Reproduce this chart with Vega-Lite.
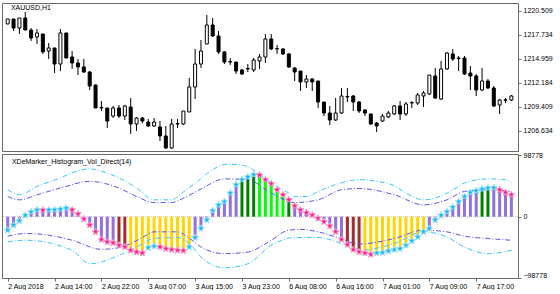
{
  "$schema": "https://vega.github.io/schema/vega-lite/v6.json",
  "background": "white",
  "padding": {"left": 1, "top": 2, "right": 0, "bottom": 0},
  "autosize": {"type": "pad"},
  "spacing": -2,
  "config": {
    "view": {"stroke": "#6a6a6a", "strokeWidth": 1},
    "font": "Liberation Sans",
    "axis": {"labelFont": "Liberation Sans", "labelFontSize": 7, "labelColor": "#000000", "tickColor": "#6a6a6a", "tickSize": 3, "domain": false, "grid": false, "title": null}
  },
  "datasets": {
    "bars": [
      {"i":0,"o":1218.98,"h":1219.55,"l":1218.98,"c":1219.55,"v":-21640,"hc":"none","d":"rise"},
      {"i":1,"o":1219.55,"h":1219.55,"l":1218.17,"c":1218.51,"v":-13510,"hc":"none","d":"rise"},
      {"i":2,"o":1218.51,"h":1219.67,"l":1217.82,"c":1219.67,"v":-6510,"hc":"none","d":"rise"},
      {"i":3,"o":1219.67,"h":1220.36,"l":1218.28,"c":1218.28,"v":2280,"hc":"none","d":"rise"},
      {"i":4,"o":1218.28,"h":1218.51,"l":1217.02,"c":1217.36,"v":7650,"hc":"none","d":"rise"},
      {"i":5,"o":1217.48,"h":1218.40,"l":1216.67,"c":1217.94,"v":10900,"hc":"none","d":"rise"},
      {"i":6,"o":1217.82,"h":1217.82,"l":1215.52,"c":1215.75,"v":10600,"hc":"none","d":"fall"},
      {"i":7,"o":1215.86,"h":1216.78,"l":1214.94,"c":1216.21,"v":10900,"hc":"none","d":"rise"},
      {"i":8,"o":1216.21,"h":1216.21,"l":1213.32,"c":1214.36,"v":11200,"hc":"none","d":"rise"},
      {"i":9,"o":1214.36,"h":1218.40,"l":1213.55,"c":1217.94,"v":12040,"hc":"none","d":"rise"},
      {"i":10,"o":1217.94,"h":1217.94,"l":1215.05,"c":1215.05,"v":13670,"hc":"none","d":"rise"},
      {"i":11,"o":1215.17,"h":1215.86,"l":1213.79,"c":1214.48,"v":10900,"hc":"none","d":"fall"},
      {"i":12,"o":1214.48,"h":1214.94,"l":1213.09,"c":1214.02,"v":4390,"hc":"none","d":"fall"},
      {"i":13,"o":1214.02,"h":1214.94,"l":1213.32,"c":1213.44,"v":-3740,"hc":"none","d":"fall"},
      {"i":14,"o":1213.44,"h":1213.55,"l":1211.36,"c":1211.82,"v":-13510,"hc":"none","d":"fall"},
      {"i":15,"o":1211.94,"h":1212.00,"l":1209.29,"c":1209.29,"v":-24410,"hc":"none","d":"fall"},
      {"i":16,"o":1209.29,"h":1210.09,"l":1208.94,"c":1209.35,"v":-36780,"hc":"none","d":"fall"},
      {"i":17,"o":1209.29,"h":1209.29,"l":1206.98,"c":1207.79,"v":-40680,"hc":"none","d":"fall"},
      {"i":18,"o":1208.36,"h":1209.52,"l":1208.13,"c":1209.29,"v":-42310,"hc":"none","d":"fall"},
      {"i":19,"o":1209.29,"h":1209.63,"l":1208.13,"c":1208.36,"v":-46050,"hc":"dn_start","d":"fall"},
      {"i":20,"o":1208.36,"h":1209.63,"l":1207.90,"c":1209.52,"v":-48820,"hc":"dn_start","d":"fall"},
      {"i":21,"o":1209.40,"h":1210.44,"l":1206.29,"c":1207.44,"v":-54190,"hc":"dn","d":"fall"},
      {"i":22,"o":1207.44,"h":1208.25,"l":1206.63,"c":1208.13,"v":-56960,"hc":"dn","d":"fall"},
      {"i":23,"o":1208.13,"h":1208.25,"l":1207.55,"c":1207.79,"v":-58580,"hc":"dn","d":"fall"},
      {"i":24,"o":1207.67,"h":1208.02,"l":1207.10,"c":1207.21,"v":-49800,"hc":"dn","d":"rise"},
      {"i":25,"o":1207.21,"h":1208.13,"l":1207.10,"c":1207.67,"v":-47680,"hc":"dn","d":"rise"},
      {"i":26,"o":1207.10,"h":1207.79,"l":1205.48,"c":1206.06,"v":-48820,"hc":"dn","d":"fall"},
      {"i":27,"o":1206.06,"h":1207.21,"l":1204.56,"c":1204.67,"v":-51420,"hc":"dn","d":"fall"},
      {"i":28,"o":1204.67,"h":1208.02,"l":1204.56,"c":1207.44,"v":-53050,"hc":"dn","d":"fall"},
      {"i":29,"o":1207.44,"h":1208.02,"l":1206.98,"c":1207.50,"v":-54190,"hc":"dn","d":"fall"},
      {"i":30,"o":1207.44,"h":1208.94,"l":1207.33,"c":1208.94,"v":-54800,"hc":"dn","d":"fall"},
      {"i":31,"o":1208.83,"h":1212.75,"l":1208.83,"c":1211.71,"v":-48820,"hc":"dn","d":"rise"},
      {"i":32,"o":1211.71,"h":1216.09,"l":1210.33,"c":1214.36,"v":-33520,"hc":"none","d":"rise"},
      {"i":33,"o":1214.36,"h":1217.13,"l":1213.90,"c":1215.86,"v":-18880,"hc":"none","d":"rise"},
      {"i":34,"o":1216.67,"h":1220.01,"l":1216.67,"c":1218.86,"v":-5370,"hc":"none","d":"rise"},
      {"i":35,"o":1218.86,"h":1219.67,"l":1217.48,"c":1217.59,"v":9760,"hc":"none","d":"rise"},
      {"i":36,"o":1217.59,"h":1218.17,"l":1215.52,"c":1215.75,"v":19040,"hc":"none","d":"rise"},
      {"i":37,"o":1215.75,"h":1215.86,"l":1214.36,"c":1214.59,"v":24410,"hc":"none","d":"rise"},
      {"i":38,"o":1214.59,"h":1215.05,"l":1214.25,"c":1214.65,"v":38080,"hc":"none","d":"rise"},
      {"i":39,"o":1214.59,"h":1214.59,"l":1213.21,"c":1213.55,"v":51580,"hc":"none","d":"rise"},
      {"i":40,"o":1213.67,"h":1213.79,"l":1213.09,"c":1213.21,"v":59720,"hc":"up_start","d":"rise"},
      {"i":41,"o":1213.79,"h":1214.36,"l":1213.44,"c":1213.85,"v":64110,"hc":"up_start","d":"rise"},
      {"i":42,"o":1213.67,"h":1215.05,"l":1213.44,"c":1214.82,"v":67860,"hc":"up_start","d":"rise"},
      {"i":43,"o":1214.71,"h":1215.52,"l":1213.79,"c":1215.17,"v":67000,"hc":"up","d":"fall"},
      {"i":44,"o":1215.17,"h":1217.82,"l":1214.48,"c":1217.25,"v":59720,"hc":"up","d":"fall"},
      {"i":45,"o":1217.25,"h":1217.82,"l":1215.98,"c":1216.09,"v":53210,"hc":"up","d":"fall"},
      {"i":46,"o":1216.09,"h":1216.55,"l":1215.52,"c":1216.15,"v":43450,"hc":"up","d":"fall"},
      {"i":47,"o":1216.09,"h":1216.21,"l":1215.40,"c":1215.52,"v":35310,"hc":"up","d":"fall"},
      {"i":48,"o":1215.52,"h":1215.63,"l":1213.90,"c":1214.02,"v":27180,"hc":"up_start","d":"fall"},
      {"i":49,"o":1213.90,"h":1214.02,"l":1212.40,"c":1213.44,"v":17410,"hc":"none","d":"fall"},
      {"i":50,"o":1213.55,"h":1213.55,"l":1211.25,"c":1212.29,"v":10900,"hc":"none","d":"fall"},
      {"i":51,"o":1212.29,"h":1213.09,"l":1211.59,"c":1212.63,"v":6510,"hc":"none","d":"fall"},
      {"i":52,"o":1212.63,"h":1212.75,"l":1211.25,"c":1212.29,"v":2770,"hc":"none","d":"fall"},
      {"i":53,"o":1212.40,"h":1212.40,"l":1209.29,"c":1209.98,"v":-2600,"hc":"none","d":"fall"},
      {"i":54,"o":1209.98,"h":1209.98,"l":1208.36,"c":1208.71,"v":-8140,"hc":"none","d":"fall"},
      {"i":55,"o":1208.71,"h":1209.52,"l":1207.33,"c":1207.90,"v":-15130,"hc":"none","d":"fall"},
      {"i":56,"o":1207.90,"h":1210.44,"l":1207.79,"c":1208.71,"v":-24410,"hc":"none","d":"fall"},
      {"i":57,"o":1208.71,"h":1211.59,"l":1208.60,"c":1210.67,"v":-36780,"hc":"none","d":"fall"},
      {"i":58,"o":1210.56,"h":1211.59,"l":1209.98,"c":1210.62,"v":-44910,"hc":"dn_start","d":"fall"},
      {"i":59,"o":1210.67,"h":1210.79,"l":1208.94,"c":1209.98,"v":-53050,"hc":"dn_start","d":"fall"},
      {"i":60,"o":1209.98,"h":1210.09,"l":1208.71,"c":1208.94,"v":-56960,"hc":"dn_start","d":"fall"},
      {"i":61,"o":1209.06,"h":1209.17,"l":1208.36,"c":1208.71,"v":-58580,"hc":"dn","d":"fall"},
      {"i":62,"o":1208.60,"h":1208.60,"l":1207.33,"c":1207.44,"v":-60700,"hc":"dn","d":"fall"},
      {"i":63,"o":1207.55,"h":1207.67,"l":1206.52,"c":1207.21,"v":-58580,"hc":"dn","d":"rise"},
      {"i":64,"o":1207.79,"h":1208.60,"l":1207.67,"c":1208.36,"v":-58000,"hc":"dn","d":"rise"},
      {"i":65,"o":1208.25,"h":1208.94,"l":1208.13,"c":1208.71,"v":-55330,"hc":"dn","d":"rise"},
      {"i":66,"o":1208.60,"h":1209.63,"l":1208.48,"c":1209.52,"v":-53050,"hc":"dn","d":"rise"},
      {"i":67,"o":1209.52,"h":1210.09,"l":1207.90,"c":1208.60,"v":-51420,"hc":"dn","d":"rise"},
      {"i":68,"o":1208.60,"h":1209.98,"l":1208.36,"c":1209.75,"v":-46050,"hc":"dn","d":"rise"},
      {"i":69,"o":1209.86,"h":1210.09,"l":1209.29,"c":1209.92,"v":-39060,"hc":"dn","d":"rise"},
      {"i":70,"o":1209.86,"h":1211.02,"l":1209.63,"c":1210.79,"v":-32550,"hc":"dn","d":"rise"},
      {"i":71,"o":1210.67,"h":1211.25,"l":1209.40,"c":1211.02,"v":-24410,"hc":"dn","d":"rise"},
      {"i":72,"o":1210.90,"h":1213.09,"l":1210.79,"c":1213.09,"v":-18880,"hc":"none","d":"rise"},
      {"i":73,"o":1212.98,"h":1213.90,"l":1210.33,"c":1210.44,"v":-5370,"hc":"none","d":"rise"},
      {"i":74,"o":1210.33,"h":1214.71,"l":1210.21,"c":1213.79,"v":2280,"hc":"none","d":"rise"},
      {"i":75,"o":1213.79,"h":1215.75,"l":1213.67,"c":1215.63,"v":8140,"hc":"none","d":"rise"},
      {"i":76,"o":1215.52,"h":1216.09,"l":1214.71,"c":1214.94,"v":15300,"hc":"none","d":"rise"},
      {"i":77,"o":1214.99,"h":1215.28,"l":1213.55,"c":1215.05,"v":24410,"hc":"none","d":"rise"},
      {"i":78,"o":1215.05,"h":1215.28,"l":1213.09,"c":1213.21,"v":32550,"hc":"none","d":"rise"},
      {"i":79,"o":1213.32,"h":1214.13,"l":1211.36,"c":1212.98,"v":39060,"hc":"none","d":"rise"},
      {"i":80,"o":1212.98,"h":1213.21,"l":1210.67,"c":1211.36,"v":41820,"hc":"none","d":"rise"},
      {"i":81,"o":1211.36,"h":1213.90,"l":1211.25,"c":1212.40,"v":44590,"hc":"up_start","d":"rise"},
      {"i":82,"o":1212.40,"h":1212.63,"l":1211.48,"c":1211.59,"v":46210,"hc":"up_start","d":"rise"},
      {"i":83,"o":1211.59,"h":1211.82,"l":1209.40,"c":1209.52,"v":46500,"hc":"none","d":"rise"},
      {"i":84,"o":1209.63,"h":1210.33,"l":1208.60,"c":1210.21,"v":43450,"hc":"none","d":"fall"},
      {"i":85,"o":1210.18,"h":1210.44,"l":1209.86,"c":1210.24,"v":39060,"hc":"none","d":"fall"},
      {"i":86,"o":1210.21,"h":1210.79,"l":1210.09,"c":1210.67,"v":35310,"hc":"none","d":"fall"}
    ],
    "bands": [
      {"band":"uo","i":0,"v":43450},{"band":"uo","i":2,"v":35310},{"band":"uo","i":5,"v":48820},{"band":"uo","i":9,"v":62490},
      {"band":"uo","i":11,"v":70620},{"band":"uo","i":14,"v":77130},{"band":"uo","i":16,"v":73230},{"band":"uo","i":19,"v":62490},
      {"band":"uo","i":22,"v":46220},{"band":"uo","i":25,"v":27180},{"band":"uo","i":28,"v":27180},{"band":"uo","i":30,"v":40000},
      {"band":"uo","i":32,"v":54000},{"band":"uo","i":35,"v":75990},{"band":"uo","i":37,"v":84130},{"band":"uo","i":39,"v":84130},
      {"band":"uo","i":41,"v":80390},{"band":"uo","i":43,"v":67860},{"band":"uo","i":45,"v":54350},{"band":"uo","i":48,"v":38080},
      {"band":"uo","i":49,"v":32550},{"band":"uo","i":51,"v":32550},{"band":"uo","i":53,"v":40680},{"band":"uo","i":56,"v":51590},
      {"band":"uo","i":60,"v":59720},{"band":"uo","i":63,"v":56960},{"band":"uo","i":66,"v":49960},{"band":"uo","i":68,"v":38080},
      {"band":"uo","i":71,"v":27180},{"band":"uo","i":73,"v":29940},{"band":"uo","i":75,"v":38080},{"band":"uo","i":77,"v":48820},
      {"band":"uo","i":78,"v":54350},{"band":"uo","i":82,"v":60860},{"band":"uo","i":85,"v":59720},{"band":"uo","i":86,"v":54350},
      {"band":"ui","i":0,"v":32550},{"band":"ui","i":2,"v":27180},{"band":"ui","i":5,"v":35310},{"band":"ui","i":9,"v":46220},
      {"band":"ui","i":14,"v":56960},{"band":"ui","i":19,"v":46220},{"band":"ui","i":22,"v":32550},{"band":"ui","i":25,"v":22780},
      {"band":"ui","i":28,"v":22780},{"band":"ui","i":30,"v":29940},{"band":"ui","i":33,"v":44590},{"band":"ui","i":37,"v":60860},
      {"band":"ui","i":41,"v":59720},{"band":"ui","i":45,"v":38080},{"band":"ui","i":49,"v":22780},{"band":"ui","i":53,"v":27180},
      {"band":"ui","i":57,"v":43450},{"band":"ui","i":60,"v":45400},{"band":"ui","i":66,"v":35310},{"band":"ui","i":71,"v":19040},
      {"band":"ui","i":75,"v":27180},{"band":"ui","i":78,"v":40680},{"band":"ui","i":82,"v":43450},{"band":"ui","i":86,"v":40680},
      {"band":"li","i":0,"v":-31410},{"band":"li","i":3,"v":-27010},{"band":"li","i":7,"v":-29780},{"band":"li","i":11,"v":-37920},
      {"band":"li","i":16,"v":-52560},{"band":"li","i":19,"v":-49800},{"band":"li","i":21,"v":-43290},{"band":"li","i":23,"v":-33520},
      {"band":"li","i":25,"v":-24410},{"band":"li","i":29,"v":-24410},{"band":"li","i":31,"v":-34660},{"band":"li","i":33,"v":-48820},
      {"band":"li","i":37,"v":-59560},{"band":"li","i":41,"v":-56960},{"band":"li","i":45,"v":-37920},{"band":"li","i":48,"v":-21640},
      {"band":"li","i":50,"v":-20500},{"band":"li","i":53,"v":-24410},{"band":"li","i":56,"v":-32550},{"band":"li","i":60,"v":-43940},
      {"band":"li","i":66,"v":-35150},{"band":"li","i":71,"v":-21640},{"band":"li","i":75,"v":-24410},{"band":"li","i":78,"v":-31410},
      {"band":"li","i":82,"v":-35150},{"band":"li","i":86,"v":-37920},
      {"band":"lo","i":0,"v":-40680},{"band":"lo","i":3,"v":-37920},{"band":"lo","i":11,"v":-54190},{"band":"lo","i":14,"v":-75830},
      {"band":"lo","i":19,"v":-62330},{"band":"lo","i":22,"v":-48820},{"band":"lo","i":25,"v":-35150},{"band":"lo","i":29,"v":-33520},
      {"band":"lo","i":31,"v":-43290},{"band":"lo","i":33,"v":-65090},{"band":"lo","i":37,"v":-82340},{"band":"lo","i":41,"v":-75830},
      {"band":"lo","i":45,"v":-46050},{"band":"lo","i":49,"v":-33520},{"band":"lo","i":53,"v":-33520},{"band":"lo","i":57,"v":-43290},
      {"band":"lo","i":60,"v":-54190},{"band":"lo","i":66,"v":-43290},{"band":"lo","i":71,"v":-24410},{"band":"lo","i":75,"v":-32550},
      {"band":"lo","i":78,"v":-48820},{"band":"lo","i":82,"v":-59560},{"band":"lo","i":86,"v":-54190}
    ],
    "labels": [
      {"panel": "price", "label": "XAUUSD,H1"},
      {"panel": "ind", "label": "XDeMarker_Histogram_Vol_Direct(14)"}
    ]
  },
  "vconcat": [
    {
      "width": 516,
      "height": 148,
      "layer": [
        {
          "data": {"name": "bars"},
          "mark": {"type": "rule", "color": "#000000", "strokeWidth": 1, "clip": true},
          "encoding": {
            "x": {"field": "i", "type": "quantitative", "scale": {"domain": [-0.12, 86.28], "nice": false, "zero": false}, "axis": null},
            "y": {"field": "l", "type": "quantitative", "scale": {"domain": [1204.327, 1221.397], "nice": false, "zero": false},
                  "axis": {"orient": "right", "values": [1206.634, 1209.409, 1212.184, 1214.959, 1217.734, 1220.509], "tickCount": 20, "format": ".3f", "labelPadding": 2, "labelOverlap": false, "title": null}},
            "y2": {"field": "h"}
          }
        },
        {
          "data": {"name": "bars"},
          "mark": {"type": "bar", "size": 3, "stroke": "#000000", "strokeWidth": 1, "clip": true},
          "encoding": {
            "x": {"field": "i", "type": "quantitative", "axis": null},
            "y": {"field": "o", "type": "quantitative",
                  "axis": {"orient": "right", "values": [1206.634, 1209.409, 1212.184, 1214.959, 1217.734, 1220.509], "tickCount": 20, "format": ".3f", "labelPadding": 2, "labelOverlap": false, "title": null}},
            "y2": {"field": "c"},
            "fill": {"condition": {"test": "datum.c >= datum.o", "value": "#ffffff"}, "value": "#000000"}
          }
        },
        {
          "data": {"name": "labels"},
          "transform": [{"filter": "datum.panel == 'price'"}],
          "mark": {"type": "text", "align": "left", "baseline": "middle", "fontSize": 7, "font": "Liberation Sans", "fill": "#000000"},
          "encoding": {
            "x": {"datum": 0.55},
            "y": {"datum": 1220.82},
            "text": {"field": "label", "type": "nominal"}
          }
        }
      ]
    },
    {
      "width": 516,
      "height": 124,
      "layer": [
        {
          "data": {"values": [{"v": 0}]},
          "mark": {"type": "rule", "color": "#c4c4c4", "strokeWidth": 1, "strokeDash": [1, 1]},
          "encoding": {
            "y": {"field": "v", "type": "quantitative", "scale": {"domain": [-98778, 101034], "nice": false, "zero": false},
                  "axis": {"orient": "right", "values": [-98778, 0, 98778], "tickCount": 20, "format": "d", "labelPadding": 2, "labelFlush": true, "title": null}}
          }
        },
        {
          "data": {"name": "bars"},
          "mark": {"type": "bar", "size": 3, "clip": true},
          "encoding": {
            "x": {"field": "i", "type": "quantitative", "scale": {"domain": [-0.12, 86.28], "nice": false, "zero": false},
                  "axis": {"values": [0, 8, 16, 24, 32, 40, 48, 56, 64, 72, 80], "tickCount": 20, "labelAlign": "left", "labelPadding": 1, "labelFlush": false, "labelOverlap": false,
                           "labelExpr": "['2 Aug 2018','2 Aug 14:00','2 Aug 22:00','3 Aug 07:00','3 Aug 15:00','3 Aug 23:00','6 Aug 08:00','6 Aug 16:00','7 Aug 01:00','7 Aug 09:00','7 Aug 17:00'][round(datum.value / 8)]", "title": null}},
            "y": {"field": "v", "type": "quantitative"},
            "y2": {"datum": 0},
            "color": {"field": "hc", "type": "nominal",
                      "scale": {"domain": ["none", "dn_start", "dn", "up_start", "up", "uo", "ui", "li", "lo"],
                                "range": ["#9370DB", "#A52A2A", "#FFD700", "#008000", "#00FF00", "#3EC5F5", "#5B55E0", "#5B55E0", "#3EC5F5"]},
                      "legend": null}
          }
        },
        {
          "data": {"name": "bands"},
          "mark": {"type": "line", "strokeWidth": 1, "strokeDash": [5, 2, 1, 2], "interpolate": "monotone", "clip": true},
          "encoding": {
            "x": {"field": "i", "type": "quantitative"},
            "y": {"field": "v", "type": "quantitative"},
            "color": {"field": "band", "type": "nominal", "legend": null}
          }
        },
        {
          "data": {"name": "bars"},
          "mark": {"type": "point", "shape": "M0,-1L0.247,-0.34L0.951,-0.309L0.399,0.13L0.588,0.809L0,0.42L-0.588,0.809L-0.399,0.13L-0.951,-0.309L-0.247,-0.34Z", "filled": true, "size": 52, "strokeWidth": 1, "opacity": 1, "clip": true},
          "encoding": {
            "x": {"field": "i", "type": "quantitative"},
            "y": {"field": "v", "type": "quantitative"},
            "fill": {"field": "d", "type": "nominal", "scale": {"domain": ["rise", "fall"], "range": ["#14B9F2", "#FF1A8C"]}, "legend": null},
            "stroke": {"field": "d", "type": "nominal", "scale": {"domain": ["rise", "fall"], "range": ["#9ADFFA", "#FF9CCB"]}, "legend": null}
          }
        },
        {
          "data": {"name": "labels"},
          "transform": [{"filter": "datum.panel == 'ind'"}],
          "mark": {"type": "text", "align": "left", "baseline": "middle", "fontSize": 7, "font": "Liberation Sans", "fill": "#000000"},
          "encoding": {
            "x": {"datum": 0.72},
            "y": {"datum": 88630},
            "text": {"field": "label", "type": "nominal"}
          }
        }
      ]
    }
  ]
}
